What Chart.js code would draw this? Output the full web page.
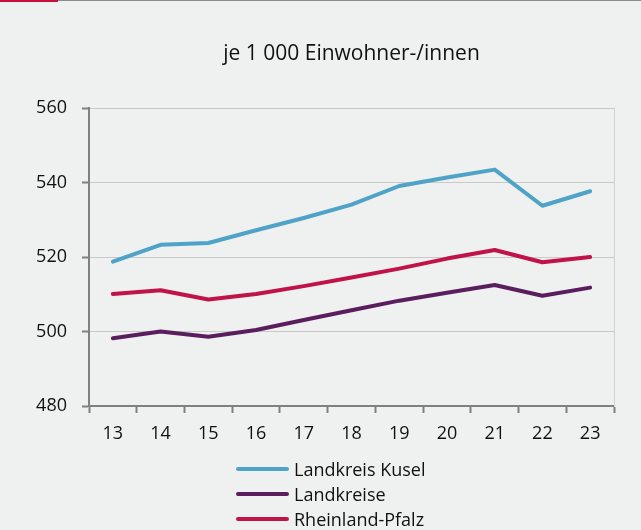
<!DOCTYPE html>
<html><head><meta charset="utf-8">
<script src="https://cdn.jsdelivr.net/npm/chart.js@4"></script>
<style>
html,body{margin:0;padding:0;background:#eff0f0;}
#wrap{position:relative;width:641px;height:530px;overflow:hidden;background:#eff0f0;}
#topg{position:absolute;left:58px;top:0;width:583px;height:1px;background:#8a8a8a;}
#topr{position:absolute;left:0;top:0;width:58px;height:2px;background:#c8103f;}
canvas{position:absolute;left:0;top:0;}
#legend{position:absolute;left:236px;top:456px;font-family:"Open Sans",sans-serif;font-size:18px;color:#111;}
.li{display:flex;align-items:center;height:25px;}
.sw{width:53px;height:4px;border-radius:2px;margin-right:5px;}
</style></head>
<body><div id="wrap"><canvas id="c" width="641" height="530"></canvas><div id="topr"></div><div id="topg"></div><div id="legend"></div></div>
<script>
const categories = ["13","14","15","16","17","18","19","20","21","22","23"];
const kusel = [518.8, 523.3, 523.8, 527.2, 530.5, 534.1, 539.1, 541.4, 543.5, 533.8, 537.7];
const landkreise = [498.2, 500.0, 498.6, 500.4, 503.1, 505.7, 508.3, 510.4, 512.5, 509.6, 511.8];
const rlp = [510.1, 511.1, 508.6, 510.1, 512.2, 514.5, 516.9, 519.6, 521.9, 518.6, 520.0];
const seriesNames = ["Landkreis Kusel", "Landkreise", "Rheinland-Pfalz"];
const seriesColors = ["#4fa3c7", "#5a1e5e", "#c1124a"];
const yTicks = [480, 500, 520, 540, 560];
const titleText = "je 1 000 Einwohner-/innen";

const font = "'Open Sans', sans-serif";
const data = [kusel, landkreise, rlp];
const datasets = data.map((d,i)=>({label:seriesNames[i],data:d,borderColor:seriesColors[i],backgroundColor:seriesColors[i],borderWidth:4,pointRadius:0,tension:0,borderCapStyle:'round',borderJoinStyle:'round'}));

new Chart(document.getElementById('c'),{
  type:'line',
  data:{labels:categories,datasets:datasets},
  options:{
    responsive:false,animation:false,
    layout:{padding:{left:0,right:0,top:0,bottom:0}},
    plugins:{
      legend:{display:false},
      tooltip:{enabled:false},
      title:{display:true,text:titleText,fullSize:false,color:'#111',font:{family:font,size:21,weight:'normal'},padding:{top:41,bottom:42}}
    },
    scales:{
      x:{
        offset:true,
        grid:{display:true,offset:true,drawOnChartArea:false,drawTicks:true,tickLength:7,tickColor:'#808080',tickWidth:2,color:'#808080'},
        border:{display:true,color:'#808080',width:2},
        ticks:{color:'#111',font:{family:font,size:18},padding:10,maxRotation:0},
        afterFit:(s)=>{s.height=124;}
      },
      y:{
        min:480,max:560,
        afterBuildTicks:(s)=>{s.ticks=yTicks.map(v=>({value:v}));},
        grid:{color:'#c9c9c9',lineWidth:1,tickLength:7,tickColor:'#808080',tickWidth:2},
        border:{display:true,color:'#808080',width:2},
        ticks:{color:'#111',font:{family:font,size:18},padding:15},
        afterFit:(s)=>{s.width=89;}
      },
      y2:{
        position:'right',min:480,max:560,
        grid:{display:false},
        ticks:{display:false},
        border:{display:true,color:'#d2d2d2',width:1},
        afterFit:(s)=>{s.width=27;}
      }
    }
  }
});
const lg=document.getElementById('legend');
seriesNames.forEach((n,i)=>{
  const row=document.createElement('div');row.className='li';
  const sw=document.createElement('div');sw.className='sw';sw.style.background=seriesColors[i];
  const t=document.createElement('span');t.textContent=n;
  row.appendChild(sw);row.appendChild(t);lg.appendChild(row);
});
</script></body></html>
